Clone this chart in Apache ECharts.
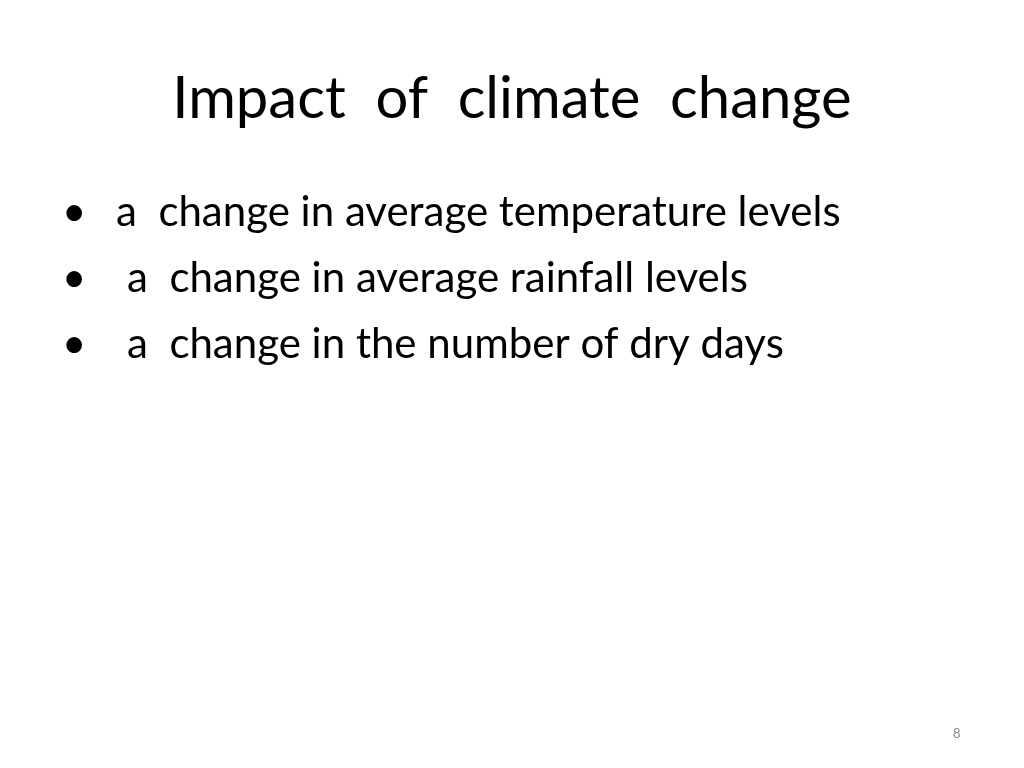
<!DOCTYPE html>
<html><head><meta charset="utf-8">
<script src="https://cdn.jsdelivr.net/npm/echarts@6/dist/echarts.min.js"></script>
<style>html,body{margin:0;padding:0;background:#fff}#c{width:1024px;height:768px}</style>
</head><body><div id="c"></div>
<script>
const title = "Impact  of  climate  change";
const bullets = ["a  change in average temperature levels", " a  change in average rainfall levels", " a  change in the number of dry days"];
const pageNumber = "8";

const font = "Lato, 'Open Sans', sans-serif";
const chart = echarts.init(document.getElementById('c'));
const els = [{type:'text', left:'center', top:70, style:{text:title, font:"58px "+font, fill:'#000'}}];
bullets.forEach((b,i)=>{
  const y = 191 + i*66;
  els.push({type:'text', left:62, top:y, style:{text:'•', font:"42px "+font, fill:'#000'}});
  els.push({type:'text', left:b.startsWith(' ')?127:116, top:y, style:{text:b.trim(), font:"42px "+font, fill:'#000'}});
});
els.push({type:'text', left:953, top:727, style:{text:pageNumber, font:"13px "+font, fill:'#8a8a8a'}});
chart.setOption({graphic:els});
</script></body></html>
